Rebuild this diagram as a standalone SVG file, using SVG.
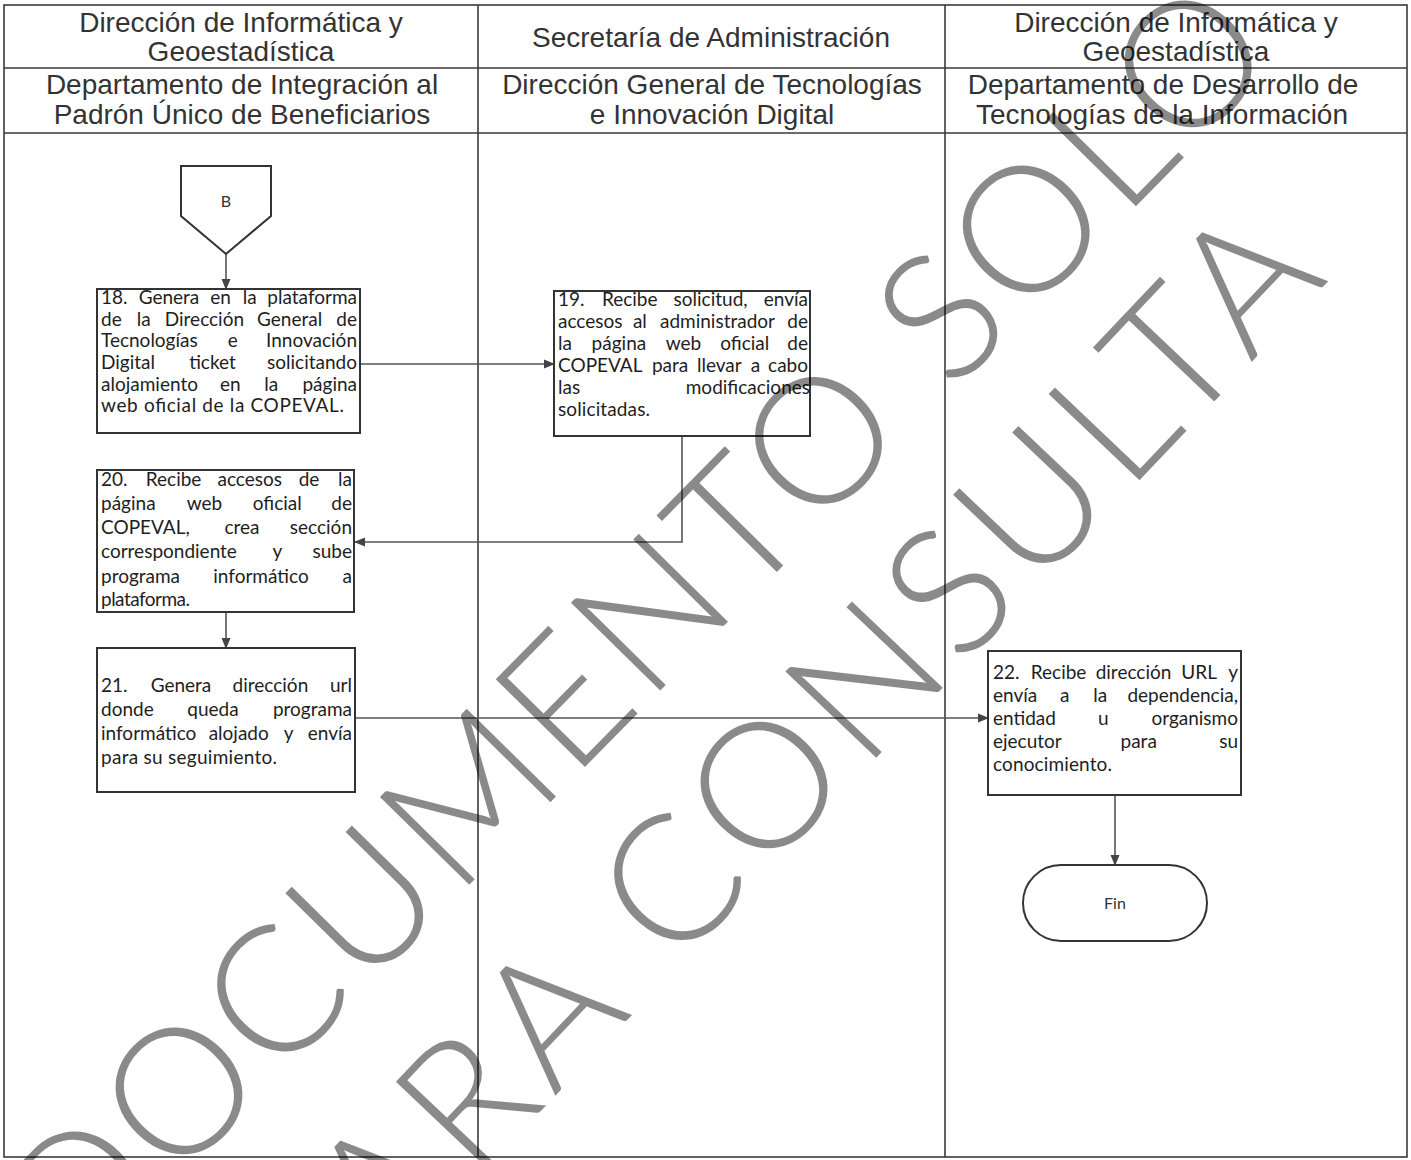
<svg xmlns="http://www.w3.org/2000/svg" width="1411" height="1160" viewBox="0 0 1411 1160">
<style>
.lane{stroke:#3a3a3a;stroke-width:1.6;fill:none}
.hdr{font-family:"Liberation Sans",Arial,sans-serif;font-size:28px;fill:#333;text-anchor:middle}
.box{fill:#fff;stroke:#333;stroke-width:2}
.t{font-family:Lato,"Open Sans",sans-serif;font-size:19px;fill:#1e1e1e}
.m{text-anchor:middle}
.e{text-anchor:end}
.c{font-family:Lato,"Open Sans",sans-serif;font-size:16px;fill:#333;text-anchor:middle}
.conn{stroke:#555;stroke-width:1.6;fill:none;marker-end:url(#arr)}
.wm{font-family:Lato,Roboto,"DejaVu Sans",sans-serif;font-weight:300;font-size:177px;fill:#000;fill-opacity:0.46}
</style>
<defs>
<marker id="arr" markerWidth="11" markerHeight="10" refX="10" refY="5" orient="auto" markerUnits="userSpaceOnUse"><path d="M0,0.5 L11,5 L0,9.5 z" fill="#444"/></marker>
</defs>
<rect x="0" y="0" width="1411" height="1160" fill="#fff"/>
<g id="lanes">
<rect class="lane" x="4" y="5" width="1403" height="1152"/>
<line class="lane" x1="4" y1="68" x2="1407" y2="68"/>
<line class="lane" x1="4" y1="133" x2="1407" y2="133"/>
<line class="lane" x1="478" y1="5" x2="478" y2="1157"/>
<line class="lane" x1="945" y1="5" x2="945" y2="1157"/>
</g>
<g id="headers">
<text class="hdr" x="241" y="32">Dirección de Informática y</text>
<text class="hdr" x="241" y="61">Geoestadística</text>
<text class="hdr" x="242" y="94">Departamento de Integración al</text>
<text class="hdr" x="242" y="124">Padrón Único de Beneficiarios</text>
<text class="hdr" x="711" y="47">Secretaría de Administración</text>
<text class="hdr" x="712" y="94">Dirección General de Tecnologías</text>
<text class="hdr" x="712" y="124">e Innovación Digital</text>
<text class="hdr" x="1176" y="32">Dirección de Informática y</text>
<text class="hdr" x="1176" y="61">Geoestadística</text>
<text class="hdr" x="1163" y="94">Departamento de Desarrollo de</text>
<text class="hdr" x="1162" y="124">Tecnologías de la Información</text>
</g>
<g id="connectors">
<line class="conn" x1="226" y1="254" x2="226" y2="289"/>
<line class="conn" x1="360" y1="364" x2="554" y2="364"/>
<polyline class="conn" points="682,436 682,542 355,542"/>
<line class="conn" x1="226" y1="612" x2="226" y2="648"/>
<line class="conn" x1="355" y1="718" x2="988" y2="718"/>
<line class="conn" x1="1115" y1="795" x2="1115" y2="865"/>
</g>
<g id="nodeB">
<polygon class="box" points="181,166 271,166 271,216 226,254 181,216"/>
<text class="c" x="226" y="207">B</text>
</g>
<g id="node18">
<rect class="box" x="97" y="289" width="263" height="144"/>
<text class="t" y="304"><tspan x="101">18.</tspan><tspan class="m" x="169">Genera</tspan><tspan class="m" x="220.5">en</tspan><tspan class="m" x="249.7">la</tspan><tspan class="e" x="357">plataforma</tspan></text>
<text class="t" y="326"><tspan x="101">de</tspan><tspan class="m" x="143.8">la</tspan><tspan class="m" x="204.4">Dirección</tspan><tspan class="m" x="289.6">General</tspan><tspan class="e" x="357">de</tspan></text>
<text class="t" y="347"><tspan x="101">Tecnologías</tspan><tspan class="m" x="232.7">e</tspan><tspan class="e" x="357">Innovación</tspan></text>
<text class="t" y="369"><tspan x="101">Digital</tspan><tspan class="m" x="212.5">ticket</tspan><tspan class="e" x="357">solicitando</tspan></text>
<text class="t" y="391"><tspan x="101">alojamiento</tspan><tspan class="m" x="230.2">en</tspan><tspan class="m" x="271.3">la</tspan><tspan class="e" x="357">página</tspan></text>
<text class="t" x="101" y="412" textLength="243" lengthAdjust="spacing">web oficial de la COPEVAL.</text>
</g>
<g id="node19">
<rect class="box" x="554" y="291" width="256" height="145"/>
<text class="t" y="306"><tspan x="558">19.</tspan><tspan class="m" x="629.7">Recibe</tspan><tspan class="m" x="710.6">solicitud,</tspan><tspan class="e" x="808">envía</tspan></text>
<text class="t" y="328"><tspan x="558">accesos</tspan><tspan class="m" x="639.9">al</tspan><tspan class="m" x="717.5">administrador</tspan><tspan class="e" x="808">de</tspan></text>
<text class="t" y="350"><tspan x="558">la</tspan><tspan class="m" x="618.9">página</tspan><tspan class="m" x="683.5">web</tspan><tspan class="m" x="744.7">oficial</tspan><tspan class="e" x="808">de</tspan></text>
<text class="t" y="372"><tspan x="558">COPEVAL</tspan><tspan class="m" x="670.1">para</tspan><tspan class="m" x="719.3">llevar</tspan><tspan class="m" x="755.5">a</tspan><tspan class="e" x="808">cabo</tspan></text>
<text class="t" y="394"><tspan x="558">las</tspan><tspan class="e" x="810">modificaciones</tspan></text>
<text class="t" x="558" y="416" textLength="92" lengthAdjust="spacing">solicitadas.</text>
</g>
<g id="node20">
<rect class="box" x="97" y="470" width="257" height="142"/>
<text class="t" y="486"><tspan x="101">20.</tspan><tspan class="m" x="173.6">Recibe</tspan><tspan class="m" x="249.7">accesos</tspan><tspan class="m" x="309">de</tspan><tspan class="e" x="352">la</tspan></text>
<text class="t" y="510"><tspan x="101">página</tspan><tspan class="m" x="204.5">web</tspan><tspan class="m" x="277.2">oficial</tspan><tspan class="e" x="352">de</tspan></text>
<text class="t" y="534"><tspan x="101">COPEVAL,</tspan><tspan class="m" x="242">crea</tspan><tspan class="e" x="352">sección</tspan></text>
<text class="t" y="558"><tspan x="101">correspondiente</tspan><tspan class="m" x="277.4">y</tspan><tspan class="e" x="352">sube</tspan></text>
<text class="t" y="583"><tspan x="101">programa</tspan><tspan class="m" x="261">informático</tspan><tspan class="e" x="352">a</tspan></text>
<text class="t" x="101" y="606" textLength="89" lengthAdjust="spacing">plataforma.</text>
</g>
<g id="node21">
<rect class="box" x="97" y="648" width="258" height="144"/>
<text class="t" y="692"><tspan x="101">21.</tspan><tspan class="m" x="181">Genera</tspan><tspan class="m" x="270.4">dirección</tspan><tspan class="e" x="352">url</tspan></text>
<text class="t" y="716"><tspan x="101">donde</tspan><tspan class="m" x="213">queda</tspan><tspan class="e" x="352">programa</tspan></text>
<text class="t" y="740"><tspan x="101">informático</tspan><tspan class="m" x="238.7">alojado</tspan><tspan class="m" x="288.7">y</tspan><tspan class="e" x="352">envía</tspan></text>
<text class="t" x="101" y="764" textLength="176" lengthAdjust="spacing">para su seguimiento.</text>
</g>
<g id="node22">
<rect class="box" x="988" y="651" width="253" height="144"/>
<text class="t" y="679"><tspan x="993">22.</tspan><tspan class="m" x="1058.6">Recibe</tspan><tspan class="m" x="1133.5">dirección</tspan><tspan class="m" x="1199.1">URL</tspan><tspan class="e" x="1238">y</tspan></text>
<text class="t" y="702"><tspan x="993">envía</tspan><tspan class="m" x="1064.7">a</tspan><tspan class="m" x="1100.3">la</tspan><tspan class="e" x="1238">dependencia,</tspan></text>
<text class="t" y="725"><tspan x="993">entidad</tspan><tspan class="m" x="1103.2">u</tspan><tspan class="e" x="1238">organismo</tspan></text>
<text class="t" y="748"><tspan x="993">ejecutor</tspan><tspan class="m" x="1138.7">para</tspan><tspan class="e" x="1238">su</tspan></text>
<text class="t" x="993" y="771" textLength="119" lengthAdjust="spacing">conocimiento.</text>
</g>
<g id="nodeFin">
<rect class="box" x="1023" y="865" width="184" height="76" rx="38" ry="38"/>
<text class="c" x="1115" y="909">Fin</text>
</g>
<g id="watermark">
<text class="wm" transform="translate(77,1284) rotate(-45.5)" textLength="1719" lengthAdjust="spacing">DOCUMENTO SOLO</text>
<text class="wm" transform="translate(318,1346) rotate(-46.5)" textLength="1470" lengthAdjust="spacing">PARA CONSULTA</text>
</g>
</svg>
